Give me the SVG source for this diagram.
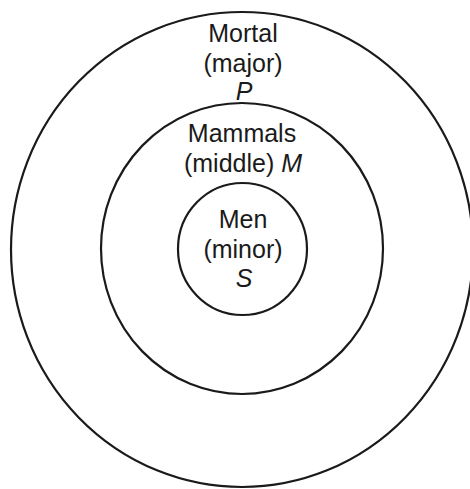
<svg xmlns="http://www.w3.org/2000/svg" width="470" height="489" viewBox="0 0 470 489">
<style>
.ring{fill:none;stroke:#1a1a1a;stroke-width:2.2}
.t{font-family:"Liberation Sans",Arial,sans-serif;font-size:25px;fill:#1a1a1a;text-anchor:middle}
.i{font-style:italic}
</style>
<rect width="470" height="489" fill="#fff"/>
<g id="outer">
<ellipse class="ring" cx="242" cy="249.5" rx="231" ry="237.5"/>
<text class="t" x="243" y="42">Mortal</text>
<text class="t" x="243" y="72">(major)</text>
<text class="t i" x="244" y="100">P</text>
</g>
<g id="middle">
<ellipse class="ring" cx="242" cy="248.5" rx="141" ry="145.5"/>
<text class="t" x="242" y="142">Mammals</text>
<text class="t" x="243" y="172">(middle) <tspan class="i">M</tspan></text>
</g>
<g id="inner">
<ellipse class="ring" cx="242.5" cy="249" rx="64.5" ry="66"/>
<text class="t" x="243" y="228">Men</text>
<text class="t" x="243" y="258">(minor)</text>
<text class="t i" x="244" y="287">S</text>
</g>
<g id="connectors"/>
</svg>
